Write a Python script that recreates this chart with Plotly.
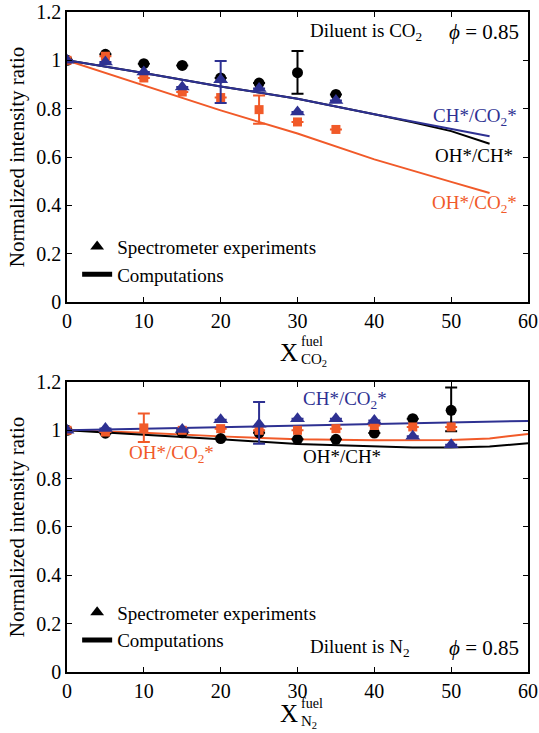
import plotly.graph_objects as go

# ---------------- data (top: diluent CO2) ----------------
x_exp_top = [0, 5, 10, 15, 20, 25, 30, 35]
oh_ch_top = [1.0, 1.025, 0.986, 0.979, 0.927, 0.906, 0.949, 0.859]
oh_ch_top_up = [None, None, None, None, None, None, 0.090, None]
oh_ch_top_dn = [None, None, None, None, None, None, 0.087, None]
ch_co2_top = [1.0, 0.993, 0.952, 0.890, 0.920, 0.883, 0.786, 0.834]
ch_co2_top_up = [None, None, None, None, 0.077, None, None, None]
ch_co2_top_dn = [None, None, None, None, 0.097, None, None, None]
oh_co2_top = [1.0, 1.017, 0.927, 0.869, 0.846, 0.796, 0.745, 0.714]
oh_co2_top_up = [None, None, None, None, None, 0.059, None, None]
oh_co2_top_dn = [None, None, None, None, None, 0.058, None, None]

x_comp_top = [0, 10, 20, 30, 40, 50, 55]
comp_ch_co2_top = [1.0, 0.948, 0.892, 0.841, 0.777, 0.716, 0.686]
comp_oh_co2_top = [1.0, 0.897, 0.793, 0.697, 0.590, 0.497, 0.451]
x_comp_top_b = [0, 10, 20, 30, 40, 45, 50, 55]
comp_oh_ch_top = [1.0, 0.948, 0.892, 0.841, 0.777, 0.744, 0.707, 0.655]

# ---------------- data (bottom: diluent N2) ----------------
x_exp_bot = [0, 5, 15, 20, 25, 30, 35, 40, 45, 50]
oh_ch_bot = [1.0, 0.988, 0.990, 0.966, 0.990, 0.963, 0.963, 0.989, 1.048, 1.083]
oh_ch_bot_up = [None, None, None, None, None, None, None, None, None, 0.094]
oh_ch_bot_dn = [None, None, None, None, None, None, None, None, None, 0.087]
x_exp_bot_o = [0, 5, 10, 15, 20, 25, 30, 35, 40, 45, 50]
oh_co2_bot = [1.0, 0.993, 1.010, 1.0, 1.007, 1.0, 1.0, 1.007, 1.020, 1.014, 1.014]
oh_co2_bot_up = [None, None, 0.060, None, None, None, None, None, None, None, None]
oh_co2_bot_dn = [None, None, 0.058, None, None, None, None, None, None, None, None]
ch_co2_bot = [1.0, 1.008, 1.003, 1.044, 1.025, 1.048, 1.048, 1.041, 0.976, 0.940]
ch_co2_bot_up = [None, None, None, None, 0.092, None, None, None, None, None]
ch_co2_bot_dn = [None, None, None, None, 0.080, None, None, None, None, None]

x_comp_bot_b = [0, 10, 20, 30, 40, 50, 60]
comp_ch_co2_bot = [1.0, 1.007, 1.011, 1.018, 1.027, 1.033, 1.039]
x_comp_bot_o = [0, 10, 20, 30, 40, 50, 55, 60]
comp_oh_co2_bot = [1.0, 0.990, 0.975, 0.963, 0.959, 0.960, 0.966, 0.985]
x_comp_bot_k = [0, 10, 20, 30, 40, 45, 50, 55, 60]
comp_oh_ch_bot = [1.0, 0.983, 0.963, 0.943, 0.933, 0.929, 0.929, 0.933, 0.947]

y_tickvals = [0, 0.2, 0.4, 0.6, 0.8, 1.0, 1.2]
y_ticktext = ["0", "0.2", "0.4", "0.6", "0.8", "1", "1.2"]
x_tickvals = [0, 10, 20, 30, 40, 50, 60]

BLUE = "#2e3192"
ORANGE = "#f15a29"
BLACK = "#000000"
FONT = "Liberation Serif, Times New Roman, DejaVu Serif, serif"

fig = go.Figure()


def err(up, dn, color):
    return dict(type="data", symmetric=False, array=up, arrayminus=dn,
                color=color, thickness=2, width=6)


def add_panel(xa, ya, xl_b, yl_b, xl_o, yl_o, xl_k, yl_k,
              xe_k, ye_k, ek, xe_o, ye_o, eo, xe_b, ye_b, eb):
    fig.add_trace(go.Scatter(x=xl_o, y=yl_o, mode="lines", line=dict(color=ORANGE, width=2),
                             xaxis=xa, yaxis=ya, showlegend=False))
    fig.add_trace(go.Scatter(x=xl_k, y=yl_k, mode="lines", line=dict(color=BLACK, width=2),
                             xaxis=xa, yaxis=ya, showlegend=False))
    fig.add_trace(go.Scatter(x=xl_b, y=yl_b, mode="lines", line=dict(color=BLUE, width=2),
                             xaxis=xa, yaxis=ya, showlegend=False))
    fig.add_trace(go.Scatter(x=xe_k, y=ye_k, mode="markers",
                             marker=dict(symbol="circle", size=11, color=BLACK),
                             error_y=err(ek[0], ek[1], BLACK),
                             xaxis=xa, yaxis=ya, showlegend=False))
    fig.add_trace(go.Scatter(x=xe_o, y=ye_o, mode="markers",
                             marker=dict(symbol="square", size=9, color=ORANGE),
                             error_y=err(eo[0], eo[1], ORANGE),
                             xaxis=xa, yaxis=ya, showlegend=False))
    fig.add_trace(go.Scatter(x=xe_b, y=ye_b, mode="markers",
                             marker=dict(symbol="triangle-up", size=13, color=BLUE),
                             error_y=err(eb[0], eb[1], BLUE),
                             xaxis=xa, yaxis=ya, showlegend=False))


add_panel("x", "y", x_comp_top, comp_ch_co2_top, x_comp_top, comp_oh_co2_top,
          x_comp_top_b, comp_oh_ch_top,
          x_exp_top, oh_ch_top, (oh_ch_top_up, oh_ch_top_dn),
          x_exp_top, oh_co2_top, (oh_co2_top_up, oh_co2_top_dn),
          x_exp_top, ch_co2_top, (ch_co2_top_up, ch_co2_top_dn))
add_panel("x2", "y2", x_comp_bot_b, comp_ch_co2_bot, x_comp_bot_o, comp_oh_co2_bot,
          x_comp_bot_k, comp_oh_ch_bot,
          x_exp_bot, oh_ch_bot, (oh_ch_bot_up, oh_ch_bot_dn),
          x_exp_bot_o, oh_co2_bot, (oh_co2_bot_up, oh_co2_bot_dn),
          x_exp_bot, ch_co2_bot, (ch_co2_bot_up, ch_co2_bot_dn))

# legend entries
for lg, xa, ya in (("legend", "x", "y"), ("legend2", "x2", "y2")):
    fig.add_trace(go.Scatter(x=[None], y=[None], mode="markers", name="Spectrometer experiments",
                             marker=dict(symbol="triangle-up", size=13, color=BLACK),
                             xaxis=xa, yaxis=ya, legend=lg, showlegend=True))
    fig.add_trace(go.Scatter(x=[None], y=[None], mode="lines", name="Computations",
                             line=dict(color=BLACK, width=2.5),
                             xaxis=xa, yaxis=ya, legend=lg, showlegend=True))

axis_common = dict(showline=True, linecolor="black", linewidth=1.5, mirror="ticks",
                   ticks="inside", ticklen=5, tickwidth=1.2, tickcolor="black",
                   showgrid=False, zeroline=False, automargin=False,
                   tickfont=dict(family=FONT, size=20, color="black"))

xax = dict(axis_common, range=[0, 60], tickvals=x_tickvals)
yax = dict(axis_common, range=[0, 1.2], tickvals=y_tickvals, ticktext=y_ticktext,
           title=dict(text="Normalized intensity ratio", font=dict(family=FONT, size=21, color="black"),
                      standoff=6))

legend_common = dict(font=dict(family=FONT, size=19, color="black"), bgcolor="rgba(0,0,0,0)",
                     borderwidth=0, xanchor="left", yanchor="top", tracegroupgap=0,
                     itemsizing="constant")

fig.update_layout(
    width=539, height=733,
    margin=dict(l=67, r=11, t=12, b=61, autoexpand=False),
    paper_bgcolor="white", plot_bgcolor="white",
    xaxis=dict(xax, domain=[0, 1], anchor="y"),
    yaxis=dict(yax, domain=[0.5606, 1], anchor="x"),
    xaxis2=dict(xax, domain=[0, 1], anchor="y2"),
    yaxis2=dict(yax, domain=[0, 0.4394], anchor="x2"),
    legend=dict(legend_common, x=0.022, y=0.6732),
    legend2=dict(legend_common, x=0.022, y=0.1190),
    font=dict(family=FONT, color="black"),
)

ann = []


def txt(x, y, text, color, xref="x", yref="y", size=19, xanchor="center"):
    ann.append(dict(x=x, y=y, xref=xref, yref=yref, text=text, showarrow=False,
                    xanchor=xanchor, yanchor="middle",
                    font=dict(family=FONT, size=size, color=color)))


# top panel labels
txt(58.8, 0.766, "CH*/CO<sub>2</sub>*", BLUE, xanchor="right")
txt(58.3, 0.607, "OH*/CH*", BLACK, xanchor="right")
txt(58.8, 0.407, "OH*/CO<sub>2</sub>*", ORANGE, xanchor="right")
txt(31.4, 1.117, "Diluent is CO<sub>2</sub>", BLACK, xanchor="left")
txt(49.4, 1.117, "<i>\u03d5</i> = 0.85", BLACK, xanchor="left", size=21)

# bottom panel labels
txt(30.5, 1.124, "CH*/CO<sub>2</sub>*", BLUE, xref="x2", yref="y2", xanchor="left")
txt(7.8, 0.904, "OH*/CO<sub>2</sub>*", ORANGE, xref="x2", yref="y2", xanchor="left")
txt(30.5, 0.89, "OH*/CH*", BLACK, xref="x2", yref="y2", xanchor="left")
txt(31.4, 0.101, "Diluent is N<sub>2</sub>", BLACK, xref="x2", yref="y2", xanchor="left")
txt(49.4, 0.101, "<i>\u03d5</i> = 0.85", BLACK, xref="x2", yref="y2", xanchor="left", size=21)

# x-axis titles (X with stacked super/subscript)
for ycen, sub in ((0.4848, "CO<sub>2</sub>"), (-0.0636, "N<sub>2</sub>")):
    txt(0.4816, ycen, "X", BLACK, xref="paper", yref="paper", size=25)
    txt(0.5040, ycen + 0.0155, "fuel", BLACK, xref="paper", yref="paper", size=14, xanchor="left")
    txt(0.5040, ycen - 0.012, sub, BLACK, xref="paper", yref="paper", size=15, xanchor="left")

fig.update_layout(annotations=ann)

fig.write_html("out.html")
